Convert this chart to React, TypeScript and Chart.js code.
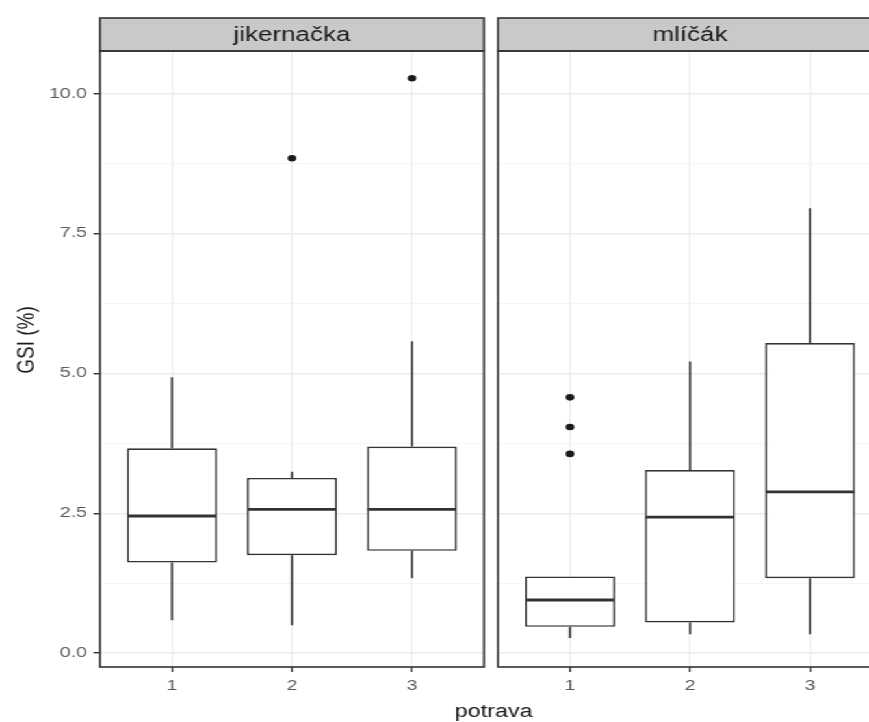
import React, { useEffect, useRef } from 'react';
import { Chart, registerables } from 'chart.js';

Chart.register(...registerables);

// ---------------- data ----------------
const categories = [1, 2, 3];
const yTickValues = [0, 1.25, 2.5, 3.75, 5, 6.25, 7.5, 8.75, 10];
const yMajorTicks = [0, 2.5, 5, 7.5, 10];
const facetLabels = ['jikernačka', 'mlíčák'];
const yTitle = 'GSI (%)';
const xTitle = 'potrava';

const jikQ1 = [1.62, 1.75, 1.83];
const jikMedian = [2.45, 2.57, 2.57];
const jikQ3 = [3.66, 3.13, 3.69];
const jikLow = [0.59, 0.5, 1.34];
const jikHigh = [4.93, 3.24, 5.57];
const jikOutliers = [[], [8.84], [10.27]];

const mliQ1 = [0.47, 0.55, 1.34];
const mliMedian = [0.95, 2.43, 2.88];
const mliQ3 = [1.37, 3.27, 5.54];
const mliLow = [0.27, 0.34, 0.34];
const mliHigh = [1.37, 5.21, 7.95];
const mliOutliers = [[3.56, 4.04, 4.57], [], []];

const panels = [
  { label: facetLabels[0], q1: jikQ1, med: jikMedian, q3: jikQ3, low: jikLow, high: jikHigh, out: jikOutliers },
  { label: facetLabels[1], q1: mliQ1, med: mliMedian, q3: mliQ3, low: mliLow, high: mliHigh, out: mliOutliers },
];

// ---------------- layout ----------------
const STRETCH = 1.3;
const CANVAS_W = 700;
const CANVAS_H = 722;
const STRIP_TOP = 18;
const PANEL_TOP = 51;
const PANEL_BOTTOM = 667;
const P1_LEFT = 76.9;
const P1_RIGHT = 372.3;
const P2_LEFT = 383.1;
const P2_RIGHT = 678.5;
const Y_MIN = -0.247;
const Y_MAX = 10.757;
const X_MIN = 0.4;
const X_MAX = 3.6;
const FONT = '"Liberation Sans", Arial, Helvetica, sans-serif';
const DARK = '#333333';
const TICK_TEXT = '#5a5a5a';
const TITLE_TEXT = '#1a1a1a';

function makeConfig(idx: number): any {
  const p = panels[idx];
  const first = idx === 0;

  const boxPlugin = {
    id: 'boxExtras' + idx,
    afterDatasetsDraw(chart: any) {
      const { ctx } = chart;
      const xs = chart.scales.x;
      const ys = chart.scales.y;
      const meta = chart.getDatasetMeta(0);
      ctx.save();
      ctx.strokeStyle = DARK;
      ctx.lineCap = 'butt';
      categories.forEach((c, i) => {
        const bar = meta.data[i];
        const cx = xs.getPixelForValue(c);
        const half = bar.width / 2;
        ctx.lineWidth = 1.6;
        ctx.beginPath();
        ctx.moveTo(cx, ys.getPixelForValue(p.q3[i]));
        ctx.lineTo(cx, ys.getPixelForValue(p.high[i]));
        ctx.moveTo(cx, ys.getPixelForValue(p.q1[i]));
        ctx.lineTo(cx, ys.getPixelForValue(p.low[i]));
        ctx.stroke();
        ctx.lineWidth = 2.8;
        ctx.beginPath();
        ctx.moveTo(cx - half + 0.5, ys.getPixelForValue(p.med[i]));
        ctx.lineTo(cx + half - 0.5, ys.getPixelForValue(p.med[i]));
        ctx.stroke();
      });
      ctx.restore();
    },
  };

  const framePlugin = {
    id: 'frame' + idx,
    afterDraw(chart: any) {
      const { ctx, chartArea: a } = chart;
      ctx.save();
      // strip
      ctx.fillStyle = '#c9c9c9';
      ctx.fillRect(a.left, STRIP_TOP, a.right - a.left, a.top - STRIP_TOP);
      ctx.strokeStyle = DARK;
      ctx.lineWidth = 1.6;
      ctx.strokeRect(a.left, STRIP_TOP, a.right - a.left, a.top - STRIP_TOP);
      ctx.fillStyle = TITLE_TEXT;
      ctx.font = `20px ${FONT}`;
      ctx.textAlign = 'center';
      ctx.textBaseline = 'middle';
      ctx.fillText(p.label, (a.left + a.right) / 2, (STRIP_TOP + a.top) / 2 + 1);
      // panel border
      ctx.strokeRect(a.left, a.top, a.right - a.left, a.bottom - a.top);
      if (first) {
        ctx.save();
        ctx.translate(20.8, 340);
        ctx.rotate(-Math.PI / 2);
        ctx.font = `19px ${FONT}`;
        ctx.fillText(yTitle, 0, 0);
        ctx.restore();
      } else {
        ctx.font = `18px ${FONT}`;
        ctx.textBaseline = 'alphabetic';
        ctx.fillText(xTitle, (P1_LEFT + P2_RIGHT) / 2 + 2, 717);
      }
      ctx.restore();
    },
  };

  const outlierPoints: { x: number; y: number }[] = [];
  categories.forEach((c, i) => p.out[i].forEach((v: number) => outlierPoints.push({ x: c, y: v })));

  return {
    type: 'bar',
    data: {
      datasets: [
        {
          type: 'bar',
          data: categories.map((c, i) => ({ x: c, y: [p.q1[i], p.q3[i]] })),
          backgroundColor: '#ffffff',
          borderColor: DARK,
          borderWidth: 1.6,
          borderSkipped: false,
          categoryPercentage: 1,
          barPercentage: 0.75,
          order: 2,
        },
        {
          type: 'scatter',
          data: outlierPoints,
          backgroundColor: '#1a1a1a',
          borderWidth: 0,
          pointRadius: 3.3,
          order: 1,
        },
      ],
    },
    options: {
      responsive: false,
      animation: false,
      events: [],
      layout: {
        padding: {
          top: PANEL_TOP,
          bottom: 0,
          left: first ? 0 : P2_LEFT,
          right: CANVAS_W - (first ? P1_RIGHT : P2_RIGHT),
        },
      },
      plugins: { legend: { display: false }, tooltip: { enabled: false }, title: { display: false } },
      scales: {
        x: {
          type: 'linear',
          bounds: 'data',
          offset: false,
          min: X_MIN,
          max: X_MAX,
          afterBuildTicks: (s: any) => {
            s.ticks = categories.map((v) => ({ value: v }));
          },
          afterFit: (s: any) => {
            s.height = CANVAS_H - PANEL_BOTTOM;
          },
          ticks: {
            autoSkip: false,
            maxRotation: 0,
            padding: 5,
            color: TICK_TEXT,
            font: { family: FONT, size: 15 },
            callback: (v: any) => String(v),
          },
          grid: { offset: false, color: '#ebebeb', lineWidth: 1.1, tickLength: 5, tickColor: DARK, tickWidth: 1.3 },
          border: { display: false },
        },
        y: {
          type: 'linear',
          bounds: 'data',
          min: Y_MIN,
          max: Y_MAX,
          afterBuildTicks: (s: any) => {
            s.ticks = yTickValues.map((v) => ({ value: v }));
          },
          afterFit: (s: any) => {
            s.width = first ? P1_LEFT : 0;
          },
          ticks: {
            display: first,
            autoSkip: false,
            padding: 5,
            color: TICK_TEXT,
            font: { family: FONT, size: 15 },
            callback: (v: any) => (yMajorTicks.includes(v) ? Number(v).toFixed(1) : ''),
          },
          grid: {
            drawTicks: first,
            tickLength: 5,
            color: (c: any) => (c.tick && yMajorTicks.includes(c.tick.value) ? '#ebebeb' : '#f3f3f3'),
            lineWidth: (c: any) => (c.tick && yMajorTicks.includes(c.tick.value) ? 1.4 : 0.8),
            tickColor: (c: any) => (c.tick && yMajorTicks.includes(c.tick.value) ? DARK : 'rgba(0,0,0,0)'),
            tickWidth: 1.4,
          },
          border: { display: false },
        },
      },
    },
    plugins: [boxPlugin, framePlugin],
  };
}

export default function App() {
  const ref1 = useRef<HTMLCanvasElement>(null);
  const ref2 = useRef<HTMLCanvasElement>(null);

  useEffect(() => {
    const c1 = new Chart(ref1.current as HTMLCanvasElement, makeConfig(0));
    const c2 = new Chart(ref2.current as HTMLCanvasElement, makeConfig(1));
    return () => {
      c1.destroy();
      c2.destroy();
    };
  }, []);

  const canvasStyle: React.CSSProperties = {
    position: 'absolute',
    left: 0,
    top: 0,
    width: CANVAS_W,
    height: CANVAS_H,
  };

  return (
    <div style={{ position: 'fixed', left: 0, top: 0, width: 869, height: 722, overflow: 'hidden', background: '#ffffff' }}>
      <div
        style={{
          position: 'absolute',
          left: 0,
          top: 0,
          width: CANVAS_W,
          height: CANVAS_H,
          transform: `scaleX(${STRETCH})`,
          transformOrigin: '0 0',
        }}
      >
        <canvas ref={ref1} width={CANVAS_W} height={CANVAS_H} style={canvasStyle} />
        <canvas ref={ref2} width={CANVAS_W} height={CANVAS_H} style={canvasStyle} />
      </div>
    </div>
  );
}
